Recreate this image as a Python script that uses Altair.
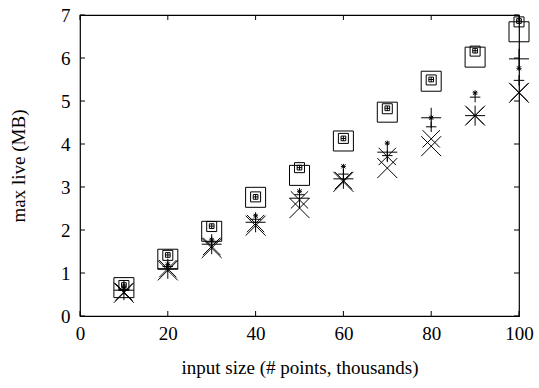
import altair as alt
import pandas as pd

x_vals = [10, 20, 30, 40, 50, 60, 70, 80, 90, 100]

big_box = [0.66, 1.32, 1.97, 2.76, 3.27, 4.07, 4.74, 5.46, 6.02, 6.61]
mid_box = [0.71, 1.41, 2.08, 2.77, 3.45, 4.13, 4.82, 5.49, 6.16, 6.84]
small_boxplus = [0.72, 1.42, 2.09, 2.77, 3.45, 4.13, 4.83, 5.50, 6.17, 6.86]
big_x = [0.54, 1.06, 1.58, 2.10, 2.51, 3.12, 3.44, 3.95, 4.66, 5.19]
mid_x = [0.56, 1.10, 1.62, 2.15, 2.70, 3.15, 3.71, 4.12, 4.66, 5.20]
big_plus = [0.60, 1.10, 1.67, 2.18, 2.74, 3.19, 3.81, 4.61, 4.66, 5.98]
mid_plus = [0.62, 1.15, 1.72, 2.25, 2.82, 3.30, 3.73, 4.40, 5.09, 5.48]
small_star = [0.65, 1.20, 1.77, 2.33, 2.90, 3.48, 4.02, 4.61, 5.19, 5.76]

x_ticks = [0, 20, 40, 60, 80, 100]
y_ticks = [0, 1, 2, 3, 4, 5, 6, 7]

W, H = 439, 301
FONT = "Liberation Serif"

xs = alt.Scale(domain=[0, 100], nice=False, zero=False)
ys = alt.Scale(domain=[0, 7], nice=False, zero=False)

x_axis = alt.Axis(values=x_ticks, ticks=False, domain=False, grid=False,
                  labelFont=FONT, labelFontSize=19, labelColor="black",
                  labelPadding=8, labelFlush=False,
                  title="input size (# points, thousands)", titleFont=FONT,
                  titleFontSize=19, titleFontWeight="normal", titleColor="black",
                  titlePadding=15)
y_axis = alt.Axis(values=y_ticks, ticks=False, domain=False, grid=False,
                  labelFont=FONT, labelFontSize=19, labelColor="black",
                  labelPadding=10, labelFlush=False,
                  title="max live (MB)", titleFont=FONT,
                  titleFontSize=19, titleFontWeight="normal", titleColor="black",
                  titlePadding=32)

PLUS = "M-1,0H1M0,-1V1"
XSHAPE = "M-1,-1L1,1M-1,1L1,-1"
BOXPLUS = "M-1,-1H1V1H-1ZM-1,0H1M0,-1V1"
STAR = "M-1,0H1M0,-1V1M-0.8,-0.8L0.8,0.8M-0.8,0.8L0.8,-0.8"


def series(vals, shape, size):
    df = pd.DataFrame({"x": x_vals, "y": vals})
    return alt.Chart(df).mark_point(
        shape=shape, size=size, filled=False, stroke="black",
        strokeWidth=1, opacity=1
    ).encode(
        x=alt.X("x:Q", scale=xs, axis=x_axis),
        y=alt.Y("y:Q", scale=ys, axis=y_axis),
    )


xt = pd.DataFrame({"v": x_ticks})
yt = pd.DataFrame({"v": y_ticks})
TL = 5
tick_b = alt.Chart(xt).mark_rule(color="black", strokeWidth=1).encode(
    x=alt.X("v:Q", scale=xs, axis=x_axis), y=alt.value(H), y2=alt.value(H - TL))
tick_t = alt.Chart(xt).mark_rule(color="black", strokeWidth=1).encode(
    x=alt.X("v:Q", scale=xs, axis=x_axis), y=alt.value(0), y2=alt.value(TL))
tick_l = alt.Chart(yt).mark_rule(color="black", strokeWidth=1).encode(
    y=alt.Y("v:Q", scale=ys, axis=y_axis), x=alt.value(0), x2=alt.value(TL))
tick_r = alt.Chart(yt).mark_rule(color="black", strokeWidth=1).encode(
    y=alt.Y("v:Q", scale=ys, axis=y_axis), x=alt.value(W), x2=alt.value(W - TL))

chart = alt.layer(
    tick_b, tick_t, tick_l, tick_r,
    series(big_box, "square", 400),
    series(mid_box, "square", 100),
    series(small_boxplus, BOXPLUS, 22),
    series(big_x, XSHAPE, 400),
    series(mid_x, XSHAPE, 300),
    series(big_plus, PLUS, 400),
    series(mid_plus, PLUS, 110),
    series(small_star, STAR, 25),
).properties(
    width=W, height=H,
    autosize=alt.AutoSizeParams(type="none"),
    padding={"left": 80, "top": 15, "right": 20, "bottom": 72},
    background="white",
).configure_view(stroke="black", strokeWidth=1.2)

chart.save("out.html", embed_options={"renderer": "svg", "actions": False})
